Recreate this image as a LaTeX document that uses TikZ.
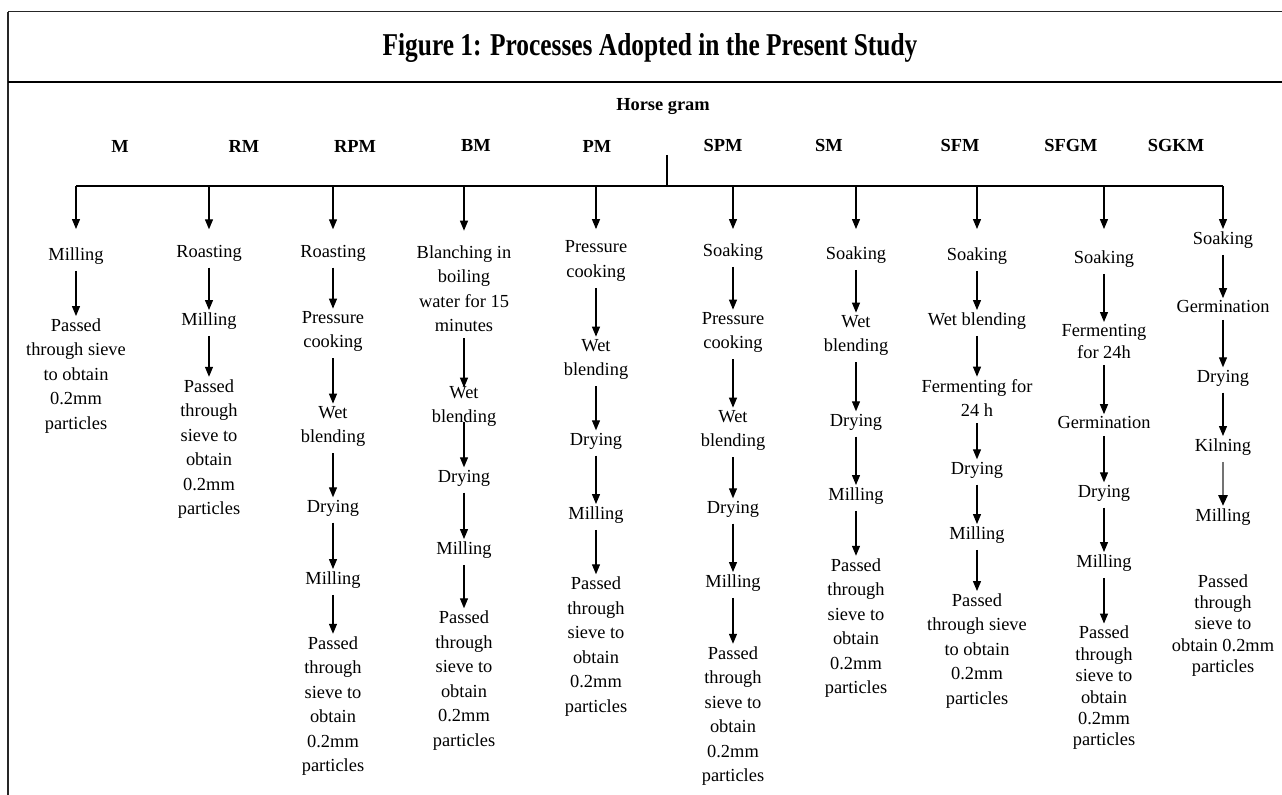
\documentclass[tikz,border=0pt]{standalone}
\usepackage{fontspec}
\setmainfont{Liberation Serif}
\usepackage{graphicx}
\usetikzlibrary{arrows.meta}
\tikzset{
  ->,
  >={Triangle[length=5pt, width=4pt]},
  x=0.5pt, y=-0.5pt,
  every node/.style={align=center, inner sep=1pt, font=\fontsize{9.2}{12.25}\selectfont},
  tight/.style={font=\fontsize{9.2}{10.7}\selectfont},
  head/.style={font=\bfseries\fontsize{9.2}{11}\selectfont},
  flow/.style={shorten <=2pt},
}

\begin{document}
\begin{tikzpicture}[line width=0.6pt]
  \useasboundingbox (0,0) rectangle (1282,795);

  % frame
  \draw[-, line width=0.5pt, black!85] (8,12) -- (1282,12);
  \draw[-, line width=0.9pt, black!85] (8,795) -- (8,12);
  \draw[-, line width=1.1pt] (8,82) -- (1282,82);

  % headings
  \node[head, font=\bfseries\fontsize{12.7}{14}\selectfont] (title) at (650,48)
    {\scalebox{1}[1.25]{Figure 1: Processes Adopted in the Present Study}};
  \node[head] (gram) at (663,107) {Horse gram};
  \node[head] (lm) at (120,146) {M};
  \node[head] (lrm) at (244,146) {RM};
  \node[head] (lrpm) at (355,146) {RPM};
  \node[head] (lbm) at (476,146) {BM};
  \node[head] (lpm) at (597,146) {PM};
  \node[head] (lspm) at (723,146) {SPM};
  \node[head] (lsm) at (829,146) {SM};
  \node[head] (lsfm) at (960,146) {SFM};
  \node[head] (lsfgm) at (1071,146) {SFGM};
  \node[head] (lsgkm) at (1176,146) {SGKM};

  % branch points
  \coordinate (root) at (667,155);
  \coordinate (hub) at (667,186);
  \coordinate (bm) at (76,186);
  \coordinate (brm) at (209,186);
  \coordinate (brpm) at (333,186);
  \coordinate (bbm) at (464,186);
  \coordinate (bpm) at (596,186);
  \coordinate (bspm) at (733,186);
  \coordinate (bsm) at (856,186);
  \coordinate (bsfm) at (977,186);
  \coordinate (bsfgm) at (1104,186);
  \coordinate (bsgkm) at (1223,186);

  % M
  \node (m1) at (76,256) {Milling};
  \node (m2) at (76,376) {Passed\\through sieve\\to obtain\\0.2mm\\particles};

  % RM
  \node (rm1) at (209,253) {Roasting};
  \node (rm2) at (209,321) {Milling};
  \node (rm3) at (209,449) {Passed\\through\\sieve to\\obtain\\0.2mm\\particles};

  % RPM
  \node (rpm1) at (333,253) {Roasting};
  \node (rpm2) at (333,331.5) {Pressure\\cooking};
  \node (rpm3) at (333,426.5) {Wet\\blending};
  \node (rpm4) at (333,508) {Drying};
  \node (rpm5) at (333,580) {Milling};
  \node (rpm6) at (333,706) {Passed\\through\\sieve to\\obtain\\0.2mm\\particles};

  % BM
  \node (bm1) at (464,288.5) {Blanching in\\boiling\\water for 15\\minutes};
  \node (bm2) at (464,406.5) {Wet\\blending};
  \node (bm3) at (464,478) {Drying};
  \node (bm4) at (464,550) {Milling};
  \node (bm5) at (464,680.5) {Passed\\through\\sieve to\\obtain\\0.2mm\\particles};

  % PM
  \node (pm1) at (596,261) {Pressure\\cooking};
  \node (pm2) at (596,359.5) {Wet\\blending};
  \node (pm3) at (596,441) {Drying};
  \node (pm4) at (596,515) {Milling};
  \node (pm5) at (596,646.5) {Passed\\through\\sieve to\\obtain\\0.2mm\\particles};

  % SPM
  \node (spm1) at (733,252) {Soaking};
  \node (spm2) at (733,332.5) {Pressure\\cooking};
  \node (spm3) at (733,430.5) {Wet\\blending};
  \node (spm4) at (733,509) {Drying};
  \node (spm5) at (733,583) {Milling};
  \node (spm6) at (733,716) {Passed\\through\\sieve to\\obtain\\0.2mm\\particles};

  % SM
  \node (sm1) at (856,255) {Soaking};
  \node (sm2) at (856,335.5) {Wet\\blending};
  \node (sm3) at (856,422) {Drying};
  \node (sm4) at (856,496) {Milling};
  \node (sm5) at (856,628) {Passed\\through\\sieve to\\obtain\\0.2mm\\particles};

  % SFM
  \node (sfm1) at (977,256) {Soaking};
  \node (sfm2) at (977,321) {Wet blending};
  \node (sfm3) at (977,398) {Fermenting for\\24 h};
  \node (sfm4) at (977,470) {Drying};
  \node (sfm5) at (977,535) {Milling};
  \node (sfm6) at (977,651) {Passed\\through sieve\\to obtain\\0.2mm\\particles};

  % SFGM
  \node (sfgm1) at (1104,259) {Soaking};
  \node[tight] (sfgm2) at (1104,341.5) {Fermenting\\for 24h};
  \node (sfgm3) at (1104,423) {Germination};
  \node (sfgm4) at (1104,493) {Drying};
  \node (sfgm5) at (1104,563) {Milling};
  \node[tight] (sfgm6) at (1104,688) {Passed\\through\\sieve to\\obtain\\0.2mm\\particles};

  % SGKM
  \node (sgkm1) at (1223,240) {Soaking};
  \node (sgkm2) at (1223,307) {Germination};
  \node (sgkm3) at (1223,378) {Drying};
  \node (sgkm4) at (1223,447) {Kilning};
  \node (sgkm5) at (1223,517) {Milling};
  \node[tight] (sgkm6) at (1223,625.5) {Passed\\through\\sieve to\\obtain 0.2mm\\particles};

  % tree lines
  \draw[-] (root) -- (hub);
  \draw[-] (bm) -- (bsgkm);
  \path (bm) edge[shorten >=8pt] (m1)
    (brm) edge[shorten >=6.5pt] (rm1)
    (brpm) edge[shorten >=6.5pt] (rpm1)
    (bbm) edge[shorten >=6pt] (bm1)
    (bpm) edge[shorten >=4.5pt] (pm1)
    (bspm) edge[shorten >=6pt] (spm1)
    (bsm) edge[shorten >=7.5pt] (sm1)
    (bsfm) edge[shorten >=8pt] (sfm1)
    (bsfgm) edge[shorten >=9.5pt] (sfgm1)
    (bsgkm) edge (sgkm1);

  % steps
  \path[flow] (m1) edge (m2);
  \path[flow] (rm1) edge (rm2) (rm2) edge (rm3);
  \path[flow] (rpm1) edge (rpm2) (rpm2) edge (rpm3) (rpm3) edge (rpm4)
    (rpm4) edge (rpm5) (rpm5) edge (rpm6);
  \path[flow] (bm1) edge[shorten >=-2pt] (bm2) (bm2) edge[shorten <=-3.5pt] (bm3)
    (bm3) edge (bm4) (bm4) edge (bm5);
  \path[flow] (pm1) edge (pm2) (pm2) edge (pm3) (pm3) edge (pm4) (pm4) edge (pm5);
  \path[flow] (spm1) edge (spm2) (spm2) edge (spm3) (spm3) edge (spm4)
    (spm4) edge (spm5) (spm5) edge (spm6);
  \path[flow] (sm1) edge (sm2) (sm2) edge (sm3) (sm3) edge (sm4) (sm4) edge (sm5);
  \path[flow] (sfm1) edge (sfm2) (sfm2) edge (sfm3) (sfm3) edge (sfm4)
    (sfm4) edge (sfm5) (sfm5) edge (sfm6);
  \path[flow] (sfgm1) edge (sfgm2) (sfgm2) edge (sfgm3) (sfgm3) edge (sfgm4)
    (sfgm4) edge (sfgm5) (sfgm5) edge (sfgm6);
  \path[flow] (sgkm1) edge (sgkm2) (sgkm2) edge (sgkm3) (sgkm3) edge (sgkm4)
    (sgkm4) edge[line width=1.4pt, black!55,
      -{Triangle[length=5.5pt, width=4.5pt, black]}] (sgkm5);

\end{tikzpicture}
\end{document}
